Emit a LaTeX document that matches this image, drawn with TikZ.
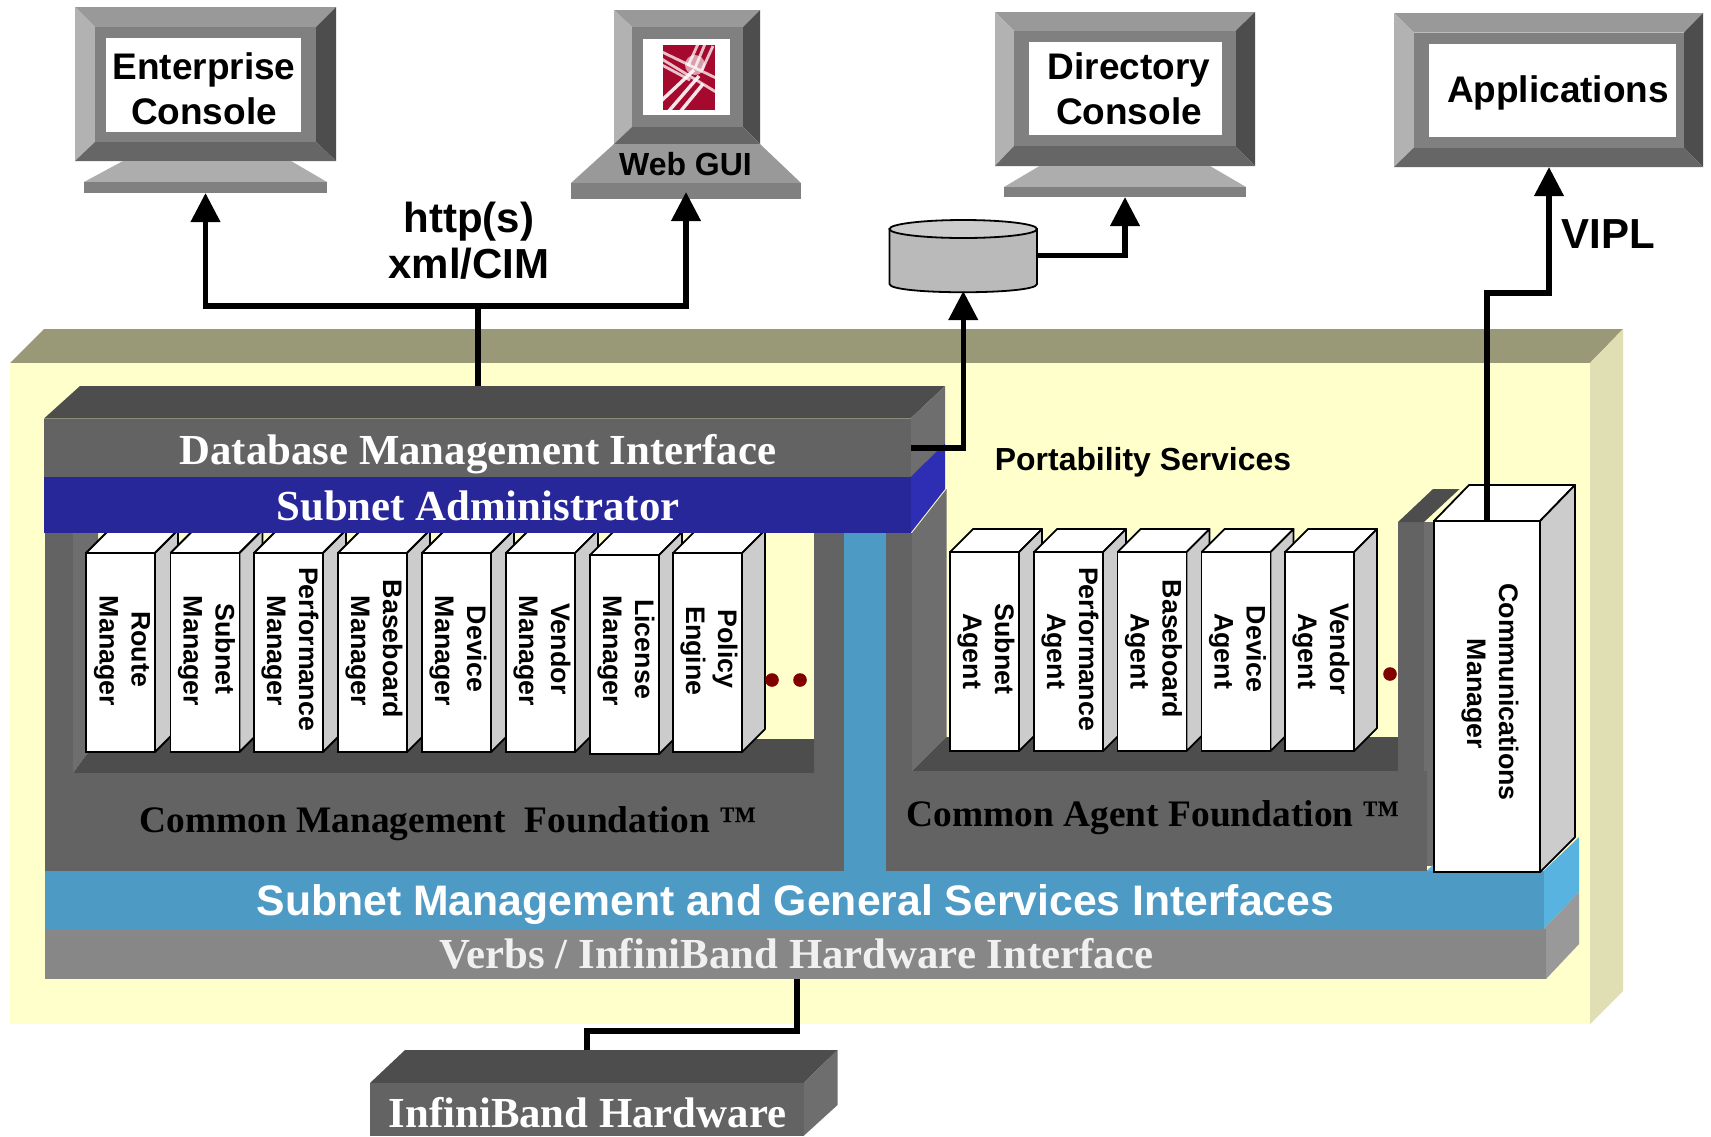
\documentclass[tikz,border=0pt]{standalone}
\usepackage{fontspec}
\usetikzlibrary{arrows.meta}
\setmainfont{Liberation Sans}
\newfontfamily\tnr{Liberation Serif}
\definecolor{wallA}{HTML}{636363}
\definecolor{wallB}{HTML}{6E6E6E}
\definecolor{wallC}{HTML}{4D4D4D}
\definecolor{teal1}{HTML}{4D9AC4}
\definecolor{teal2}{HTML}{58B3E0}
\definecolor{blue1}{HTML}{27279A}
\definecolor{blue2}{HTML}{2E2EB4}
\definecolor{boardY}{HTML}{FFFFCC}
\definecolor{boardT}{HTML}{999977}
\definecolor{boardR}{HTML}{DFDFB3}
\definecolor{logored}{HTML}{A50A2E}
\definecolor{sideG}{HTML}{CCCCCC}
\tikzset{
  wire/.style={line width=2.75pt,draw=black,line join=miter},
  arrowwire/.style={wire,-{Triangle[width=14.25pt,length=14.5pt]}},
  lab/.style={inner sep=0pt,outer sep=0pt,anchor=base},
  sans42/.style={font=\fontsize{21}{21}\selectfont\bfseries},
  monlab/.style={font=\fontsize{18.5}{22.5}\selectfont\bfseries,align=center},
  serif42/.style={font=\tnr\fontsize{21.4}{21.4}\selectfont\bfseries},
  serif37/.style={font=\tnr\fontsize{18.7}{18.7}\selectfont\bfseries},
  booktext/.style={inner sep=0pt,outer sep=0pt,rotate=-90,align=center,font=\fontsize{13.4}{16}\selectfont\bfseries},
  bookline/.style={draw=black,line width=0.9pt,line join=round},
  reddot/.style={circle,fill=red!50!black,inner sep=0pt,minimum size=6.8pt}
}
\newcommand{\pxrect}[6]{%
  \pgfmathsetmacro\rectw{(#4-#2)*0.5}\pgfmathsetmacro\recth{(#5-#3)*0.5}%
  \node[draw=none,fill=#6,inner sep=0pt,outer sep=0pt,minimum width=\rectw pt,minimum height=\recth pt] (#1) at ({(#2+#4)/2},{(#3+#5)/2}) {};}
% monitor bevel: outer x1 y1 x2 y2, inner x1 y1 x2 y2
\newcommand{\bevel}[8]{%
  \fill[black!40] (#1,#2)--(#3,#2)--(#7,#6)--(#5,#6)--cycle;
  \fill[black!30] (#1,#2)--(#5,#6)--(#5,#8)--(#1,#4)--cycle;
  \fill[wallC] (#3,#2)--(#7,#6)--(#7,#8)--(#3,#4)--cycle;
  \fill[black!60] (#1,#4)--(#5,#8)--(#7,#8)--(#3,#4)--cycle;
  \fill[black!50] (#5,#6) rectangle (#7,#8);}
% book: name, x, y top, first line, second line
\newcommand{\book}[5]{%
  \pgfmathsetmacro\bxr{#2+69}\pgfmathsetmacro\bxs{#2+92}\pgfmathsetmacro\bxt{#2+23}%
  \pgfmathsetmacro\byt{#3-23}\pgfmathsetmacro\byb{#3+199}\pgfmathsetmacro\bybs{#3+176}%
  \fill[white] (#2,#3)--(\bxt,\byt)--(\bxs,\byt)--(\bxr,#3)--cycle;
  \draw[bookline] (#2,#3)--(\bxt,\byt)--(\bxs,\byt)--(\bxr,#3);
  \filldraw[bookline,fill=sideG] (\bxr,#3)--(\bxs,\byt)--(\bxs,\bybs)--(\bxr,\byb)--cycle;
  \node[draw=black,line width=0.9pt,fill=white,inner sep=0pt,outer sep=0pt,minimum width=34.5pt,minimum height=99.5pt] (#1) at ({#2+34.5},{#3+99.5}) {};
  \node[booktext] (#1txt) at ({#2+36},651) {#4\hspace*{2pt}\\#5};}
\begin{document}
\begin{tikzpicture}[x=0.5pt,y=-0.5pt]
\useasboundingbox (0,0) rectangle (1711,1136);
\fill[white] (0,0) rectangle (1711,1136);
% Enterprise console
\bevel{75}{7}{336}{161}{95}{27}{316}{142}
\pxrect{ewhite}{106}{38}{301}{132}{white}
\fill[black!32] (123,161)--(291,161)--(327,182)--(84,182)--cycle;
\pxrect{ebase}{84}{182}{327}{193}{black!50}
\node[monlab] (etxt) at (204,88.5) {Enterprise\\Console};
% Web GUI
\bevel{614}{10}{760}{144}{632}{27}{743}{127}
\pxrect{wwhite}{643}{39}{730}{115}{white}
\pxrect{wlogo}{663}{45}{715}{110}{logored}
\begin{scope}
\clip (663,45) rectangle (715,110);
\draw[white,line width=1.7pt,opacity=.9] (660,102)--(694,70) (668,112)--(699,76) (680,112)--(703,84);
\draw[white,line width=1.4pt,opacity=.75] (660,51)--(716,78) (660,58)--(716,92) (660,64)--(690,80);
\draw[white,line width=1.4pt,opacity=.75] (698,44)--(688,66) (705,44)--(695,68) (713,46)--(702,70);
\fill[white,opacity=.6] (695,65) circle (10);
\end{scope}
\fill[black!40] (614,144)--(760,144)--(801,183)--(571,183)--cycle;
\pxrect{wbase}{571}{183}{801}{199}{black!50}
\node[lab,font=\fontsize{16}{16}\selectfont\bfseries] (wtxt) at (685.5,175) {Web GUI};
\coordinate (wport) at (686,192);
% Directory console
\bevel{995}{12}{1255}{166}{1014}{31}{1235.5}{146}
\pxrect{dwhite}{1029}{42}{1222}{135}{white}
\fill[black!32] (1039.5,166)--(1210,166)--(1246,187)--(1004,187)--cycle;
\pxrect{dbase}{1004}{187}{1246}{197}{black!50}
\node[monlab] (dtxt) at (1129,88.5) {Directory\\Console};
% Applications
\bevel{1394}{13}{1703}{167}{1414}{32.5}{1684}{147.5}
\pxrect{awhite}{1429}{44}{1676}{137}{white}
\node[lab,font=\fontsize{18.5}{19}\selectfont\bfseries] (atxt) at (1558,102) {Applications};
\coordinate (apps) at (1549,167);
% Cylinder
\pxrect{cyl}{889.5}{220}{1037}{291}{none}
\filldraw[draw=black,line width=0.9pt,fill=black!27] (889.5,229)--(889.5,284) .. controls (889.5,295) and (1037,295) .. (1037,284)--(1037,229)--cycle;
\filldraw[draw=black,line width=0.9pt,fill=sideG] (963.25,229) ellipse (73.75 and 9);
% Board
\fill[boardT] (10,363)--(44,329)--(1623,329)--(1590,363)--cycle;
\fill[boardR] (1590,363)--(1623,329)--(1623,991)--(1590,1024)--cycle;
\fill[boardY] (10,363) rectangle (1590,1024);
% Management block walls
\fill[wallA] (45,533) rectangle (73,773);
\fill[wallB] (73,533)--(98,533)--(98,739)--(73,773)--cycle;
\fill[wallA] (814,533) rectangle (844,773);
\fill[wallC] (73,773)--(98,739)--(814,739)--(814,773)--cycle;
% Agent block walls
\fill[wallA] (886,533) rectangle (912,771);
\fill[wallB] (912,533)--(946.5,489)--(946.5,737)--(912,771)--cycle;
\fill[wallC] (912,771)--(946.5,737)--(1398,737)--(1398,771)--cycle;
\fill[wallA] (1398,522) rectangle (1424,771);
\fill[wallC] (1398,522)--(1433,489)--(1459.5,489)--(1424,522)--cycle;
\fill[wallB] (1424,522)--(1434,522)--(1434,866)--(1424,866)--cycle;
% Teal strip
\pxrect{tealstrip}{844}{533}{886}{871}{teal1}
% Foundations
\pxrect{cmf}{45}{773}{844}{871}{wallA}
\pxrect{caf}{886}{771}{1426.5}{871}{wallA}
\fill[teal2] (1426.5,871)--(1434,864)--(1434,871)--cycle;
% Manager books
\book{bRoute}{86}{553}{Route}{Manager}
\book{bSubnet}{170.5}{553}{Subnet}{Manager}
\book{bPerf}{254}{553}{Performance}{Manager}
\book{bBase}{338}{553}{Baseboard}{Manager}
\book{bDev}{422}{553}{Device}{Manager}
\book{bVend}{506}{553}{Vendor}{Manager}
\book{bLic}{590}{555}{License}{Manager}
\book{bPol}{673}{553}{Policy}{Engine}
\node[reddot] (dotA) at (772,680) {};
\node[reddot] (dotB) at (800,680) {};
% Agent books
\book{aSubnet}{950}{552}{Subnet}{Agent}
\book{aPerf}{1034}{552}{Performance}{Agent}
\book{aBase}{1117.5}{552}{Baseboard}{Agent}
\book{aDev}{1201.5}{552}{Device}{Agent}
\book{aVend}{1285}{552}{Vendor}{Agent}
\node[reddot] (dotC) at (1390,674) {};
% Database interface block
\fill[wallC] (44,418.5)--(80,386)--(945,386)--(910.5,418.5)--cycle;
\fill[wallB] (910.5,418.5)--(945,386)--(945,443)--(910.5,477)--cycle;
\pxrect{dbfront}{44}{418.5}{910.5}{477}{wallA}
\fill[blue2] (910.5,477)--(945,443)--(945,489)--(910.5,533)--cycle;
\pxrect{sabar}{44}{477}{910.5}{533}{blue1}
% Bands
\fill[teal2] (1543.5,871)--(1579,837)--(1579,892)--(1543.5,929)--cycle;
\pxrect{smband}{45}{871}{1543.5}{929}{teal1}
\fill[black!40] (1543.5,929)--(1579,892)--(1579,944)--(1546,979)--cycle;
\pxrect{verbs}{45}{929}{1546}{979}{black!47}
% Communications manager
\fill[white] (1434,521)--(1469,485)--(1575,485)--(1540,521)--cycle;
\draw[bookline] (1434,521)--(1469,485)--(1575,485)--(1540,521);
\filldraw[bookline,fill=sideG] (1540,521)--(1575,485)--(1575,837)--(1540,872)--cycle;
\node[draw=black,line width=0.9pt,fill=white,inner sep=0pt,outer sep=0pt,minimum width=53pt,minimum height=175.5pt] (comm) at (1487,696.5) {};
\node[booktext] (commtxt) at (1490,694) {Communications\hspace*{2pt}\\Manager};
% InfiniBand hardware
\fill[wallC] (370,1083)--(405,1050)--(837.5,1050)--(803.5,1083)--cycle;
\fill[wallB] (803.5,1083)--(837.5,1050)--(837.5,1105)--(803.5,1136)--cycle;
\pxrect{ibfront}{370}{1083}{803.5}{1136}{wallA}
% Block labels
\node[lab,serif42,text=white] (dbtxt) at (478,464) {Database Management Interface};
\node[lab,serif42,text=white] (satxt) at (478,520.5) {Subnet Administrator};
\node[lab,serif37,text=black] (cmftxt) at (448,832) {Common Management\ \ Foundation ™};
\node[lab,serif37,text=black] (caftxt) at (1153.5,826.5) {Common Agent Foundation ™};
\node[lab,sans42,text=white,font=\fontsize{21.35}{21.35}\selectfont\bfseries] (smtxt) at (795.5,915) {Subnet Management and General Services Interfaces};
\node[lab,serif42,text=black!6] (vbtxt) at (796.5,968) {Verbs / InfiniBand Hardware Interface};
\node[lab,serif42,text=white] (ibtxt) at (587.5,1127) {InfiniBand Hardware};
\node[lab,font=\fontsize{15.95}{16}\selectfont\bfseries] (pstxt) at (1143,470.5) {Portability Services};
\node[lab,sans42] (httptxt) at (469,232) {http(s)};
\node[lab,sans42] (xmltxt) at (469,278.5) {xml/CIM};
\node[lab,sans42] (vipltxt) at (1608,248) {VIPL};
% Connectors
\coordinate (dbback) at (478,386);
\coordinate (hub) at (478,306);
\draw[wire] (dbback)--(hub);
\draw[arrowwire] (hub) -| (ebase.south);
\draw[arrowwire] (hub) -| (wport);
\draw[arrowwire] (dbfront.east) -| (cyl.south);
\draw[arrowwire] (cyl.east) -| (dbase.south);
\coordinate (vbend) at (1549,293);
\draw[arrowwire] (comm.north) |- (vbend) -- (apps);
\coordinate (vport) at (797,979);
\coordinate (ibjog) at (587,1031);
\coordinate (ibback) at (587,1050);
\draw[wire] (vport) |- (ibjog) -- (ibback);
\end{tikzpicture}
\end{document}
